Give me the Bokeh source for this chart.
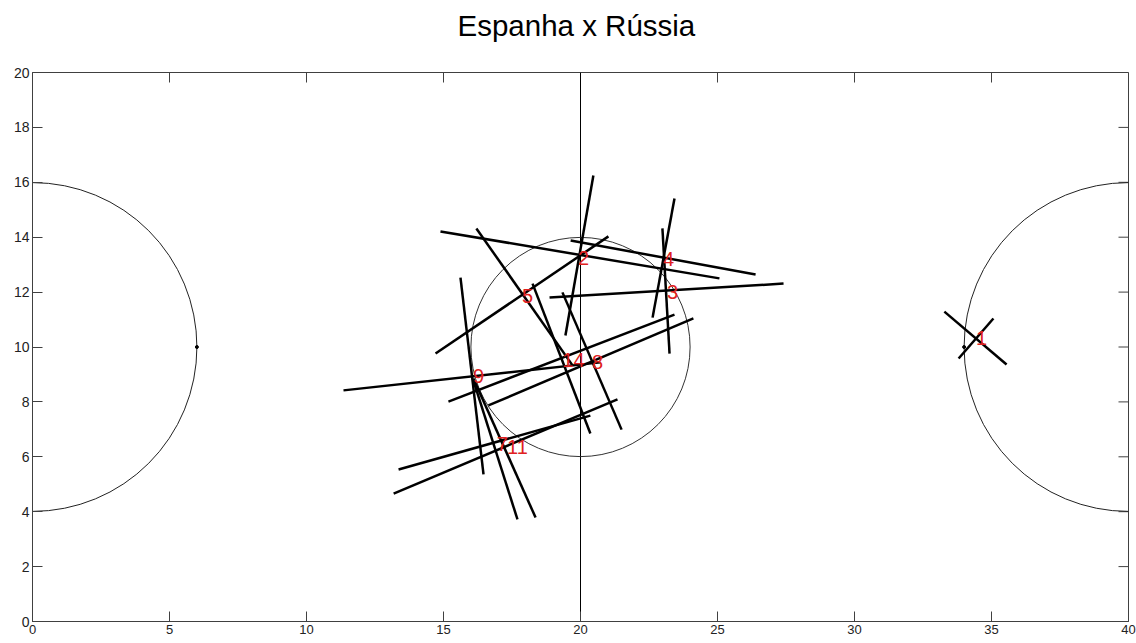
import math
from bokeh.plotting import figure
from bokeh.models import FixedTicker, Range1d, LinearAxis, Title
from bokeh.embed import file_html
from bokeh.resources import INLINE
from bokeh.core.properties import value

TITLE = "Espanha x Rússia"
X_TICKS = [0, 5, 10, 15, 20, 25, 30, 35, 40]
Y_TICKS = [0, 2, 4, 6, 8, 10, 12, 14, 16, 18, 20]

# Court geometry (data units)
FIELD_LENGTH = 40
FIELD_WIDTH = 20
CENTER_RADIUS = 4
AREA_RADIUS = 6

# Player line segments (start / end points)
seg_x0 = [14.89, 19.64, 18.87, 19.45, 14.71, 16.20, 18.25, 19.34, 22.63, 22.99,
          15.18, 16.64, 11.35, 15.62, 16.09, 16.09, 13.36, 13.18, 33.28, 33.80]
seg_y0 = [14.21, 13.88, 11.80, 10.42, 9.76, 14.32, 12.31, 11.99, 11.07, 14.32,
          8.01, 7.87, 8.42, 12.53, 8.78, 8.85, 5.54, 4.66, 11.29, 9.58]
seg_x1 = [25.07, 26.39, 27.41, 20.47, 21.02, 19.71, 20.36, 21.50, 23.43, 23.25,
          23.43, 24.12, 20.73, 16.46, 17.70, 18.36, 20.36, 21.35, 35.55, 35.07]
seg_y1 = [12.50, 12.64, 12.31, 16.25, 14.03, 9.33, 6.85, 6.99, 15.41, 9.76,
          11.18, 11.04, 9.44, 5.36, 3.72, 3.79, 7.50, 8.09, 9.36, 11.04]

# Player numbers
player_labels = ["2", "4", "3", "5", "14", "8", "9", "7", "11", "1"]
player_x = [20.11, 23.21, 23.36, 18.07, 19.74, 20.62, 16.28, 17.15, 17.70, 34.64]
player_y = [13.26, 13.22, 11.99, 11.84, 9.51, 9.44, 8.93, 6.48, 6.34, 10.31]

AXIS_COLOR = "#404040"
FONT = "Liberation Sans"

p = figure(width=1136, height=643,
           x_range=Range1d(0, FIELD_LENGTH), y_range=Range1d(0, FIELD_WIDTH),
           output_backend="svg", toolbar_location=None,
           min_border_left=32, min_border_right=8,
           min_border_top=72, min_border_bottom=22)

p.background_fill_color = "white"
p.border_fill_color = "white"
p.outline_line_color = AXIS_COLOR
p.grid.visible = False


def style_axis(ax, ticks, label_size):
    ax.ticker = FixedTicker(ticks=ticks)
    ax.major_tick_in = 10
    ax.major_tick_out = 0
    ax.minor_tick_in = 0
    ax.minor_tick_out = 0
    ax.axis_line_color = AXIS_COLOR
    ax.major_tick_line_color = AXIS_COLOR
    ax.major_label_text_font = FONT
    ax.major_label_text_color = "#222222"
    ax.major_label_text_font_size = label_size
    ax.major_label_standoff = 3


style_axis(p.xaxis[0], X_TICKS, "13px")
style_axis(p.yaxis[0], Y_TICKS, "14px")

# Invisible spacer axis between the frame and the title
spacer = LinearAxis(ticker=FixedTicker(ticks=X_TICKS), axis_line_color=None,
                    major_tick_in=0, major_tick_out=26, minor_tick_in=0,
                    minor_tick_out=0, major_label_standoff=0,
                    major_tick_line_color=None,
                    major_label_text_font_size="13px",
                    major_label_text_color=None)
p.add_layout(spacer, "above")
p.add_layout(Title(text=TITLE, text_font=FONT, text_font_size="29.5px",
                   text_font_style="normal", text_color="black",
                   align="left", offset=425, standoff=10), "above")

# Inward ticks on the top and right edges of the box (MATLAB style)
p.ray(x=X_TICKS, y=[FIELD_WIDTH] * len(X_TICKS), length=10, length_units="screen",
      angle=-math.pi / 2, line_color=AXIS_COLOR, line_width=1)
p.ray(x=[FIELD_LENGTH] * len(Y_TICKS), y=Y_TICKS, length=10, length_units="screen",
      angle=math.pi, line_color=AXIS_COLOR, line_width=1)

# Court markings
mid_x = FIELD_LENGTH / 2
mid_y = FIELD_WIDTH / 2
p.segment(x0=[mid_x], y0=[0], x1=[mid_x], y1=[FIELD_WIDTH],
          line_color="black", line_width=1)
p.arc(x=[mid_x], y=[mid_y], radius=CENTER_RADIUS, start_angle=0,
      end_angle=2 * math.pi, line_color="#333333", line_width=1)
p.arc(x=[0], y=[mid_y], radius=AREA_RADIUS, start_angle=-math.pi / 2,
      end_angle=math.pi / 2, line_color="#222222", line_width=1)
p.arc(x=[FIELD_LENGTH], y=[mid_y], radius=AREA_RADIUS, start_angle=math.pi / 2,
      end_angle=3 * math.pi / 2, line_color="#222222", line_width=1)
p.scatter(x=[AREA_RADIUS, FIELD_LENGTH - AREA_RADIUS], y=[mid_y, mid_y],
          size=3, color="black")

# Player lines
p.segment(x0=seg_x0, y0=seg_y0, x1=seg_x1, y1=seg_y1,
          line_color="black", line_width=2.5)

# Player numbers
p.text(x=player_x, y=player_y, text=player_labels,
       text_color="#e02020", text_font=value(FONT), text_font_size="20px",
       text_align="center", text_baseline="middle")

open("out.html", "w").write(file_html(p, INLINE))
